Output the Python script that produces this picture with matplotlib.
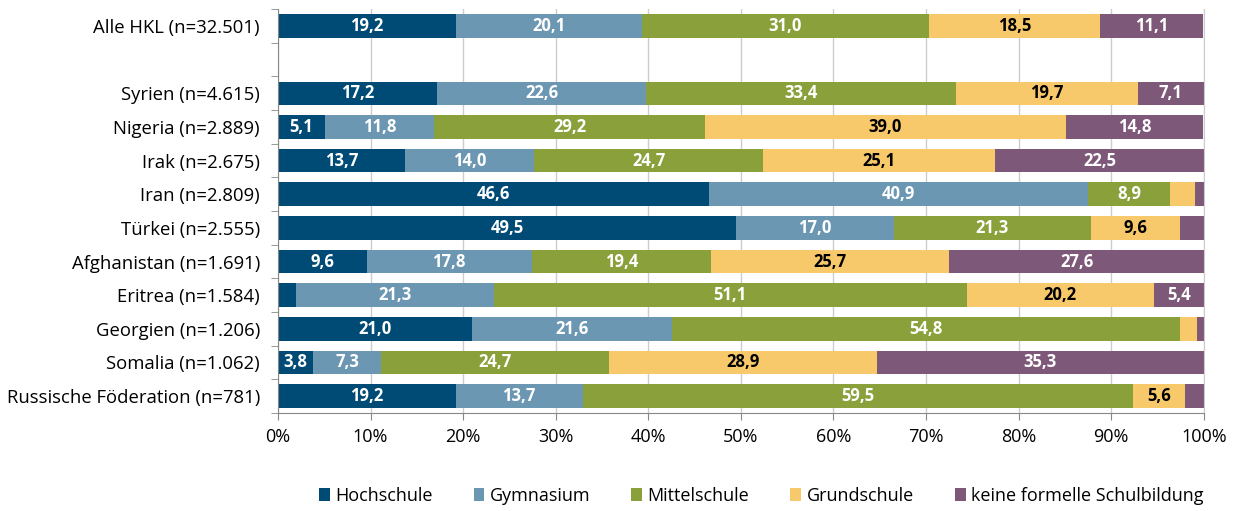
import matplotlib.pyplot as plt
import numpy as np

plt.rcParams['font.family'] = ['Open Sans', 'DejaVu Sans']

labels = ["Alle HKL (n=32.501)", "", "Syrien (n=4.615)", "Nigeria (n=2.889)", "Irak (n=2.675)",
          "Iran (n=2.809)", "Türkei (n=2.555)", "Afghanistan (n=1.691)", "Eritrea (n=1.584)",
          "Georgien (n=1.206)", "Somalia (n=1.062)", "Russische Föderation (n=781)"]

hochschule   = [19.2, 0, 17.2, 5.1, 13.7, 46.6, 49.5, 9.6, 2.0, 21.0, 3.8, 19.2]
gymnasium    = [20.1, 0, 22.6, 11.8, 14.0, 40.9, 17.0, 17.8, 21.3, 21.6, 7.3, 13.7]
mittelschule = [31.0, 0, 33.4, 29.2, 24.7, 8.9, 21.3, 19.4, 51.1, 54.8, 24.7, 59.5]
grundschule  = [18.5, 0, 19.7, 39.0, 25.1, 2.6, 9.6, 25.7, 20.2, 1.9, 28.9, 5.6]
keine        = [11.1, 0, 7.1, 14.8, 22.5, 1.0, 2.6, 27.6, 5.4, 0.7, 35.3, 2.0]

series = [
    ("Hochschule", hochschule, "#004B76", "white"),
    ("Gymnasium", gymnasium, "#6C97B3", "white"),
    ("Mittelschule", mittelschule, "#8AA03A", "white"),
    ("Grundschule", grundschule, "#F8C96A", "black"),
    ("keine formelle Schulbildung", keine, "#7E5878", "white"),
]

fig = plt.figure(figsize=(12.41, 5.11), dpi=100)
ax = fig.add_axes([0.224, 0.192, 0.746, 0.79])

y = np.arange(len(labels))
left = np.zeros(len(labels))
for name, vals, col, tcol in series:
    vals = np.array(vals)
    ax.barh(y, vals, left=left, color=col, height=0.7, label=name, zorder=2)
    for i, v in enumerate(vals):
        if v >= 3.5:
            ax.text(left[i] + v / 2, y[i], f"{v:.1f}".replace(".", ","), ha="center", va="center",
                    color=tcol, fontsize=12, fontweight="bold", zorder=3)
    left += vals

ax.set_xlim(0, 100)
ax.set_ylim(len(labels) - 0.5, -0.5)
ax.set_xticks(np.arange(0, 101, 10))
ax.set_xticklabels([f"{v}%" for v in range(0, 101, 10)], fontsize=13)
ax.set_yticks(y)
ax.set_yticklabels(labels, fontsize=13.3)
ax.tick_params(axis="y", which="major", length=0, pad=13)
ax.set_yticks(np.arange(-0.5, len(labels)), minor=True)
ax.tick_params(axis="y", which="minor", length=5, color="#888888", direction="out")
ax.tick_params(axis="x", length=5, color="#888888", pad=6)
ax.grid(True, axis="x", color="#CCCCCC", linewidth=1, zorder=0)
ax.spines["top"].set_visible(False)
ax.spines["right"].set_color("#CCCCCC")
ax.spines["left"].set_color("#888888")
ax.spines["bottom"].set_color("#888888")

ax.legend(loc="center", bbox_to_anchor=(0.522, -0.205), ncol=5, frameon=False, fontsize=13,
          handlelength=0.6, handleheight=0.7, handletextpad=0.3, columnspacing=2.27)

fig.savefig("out.png", dpi=100)
